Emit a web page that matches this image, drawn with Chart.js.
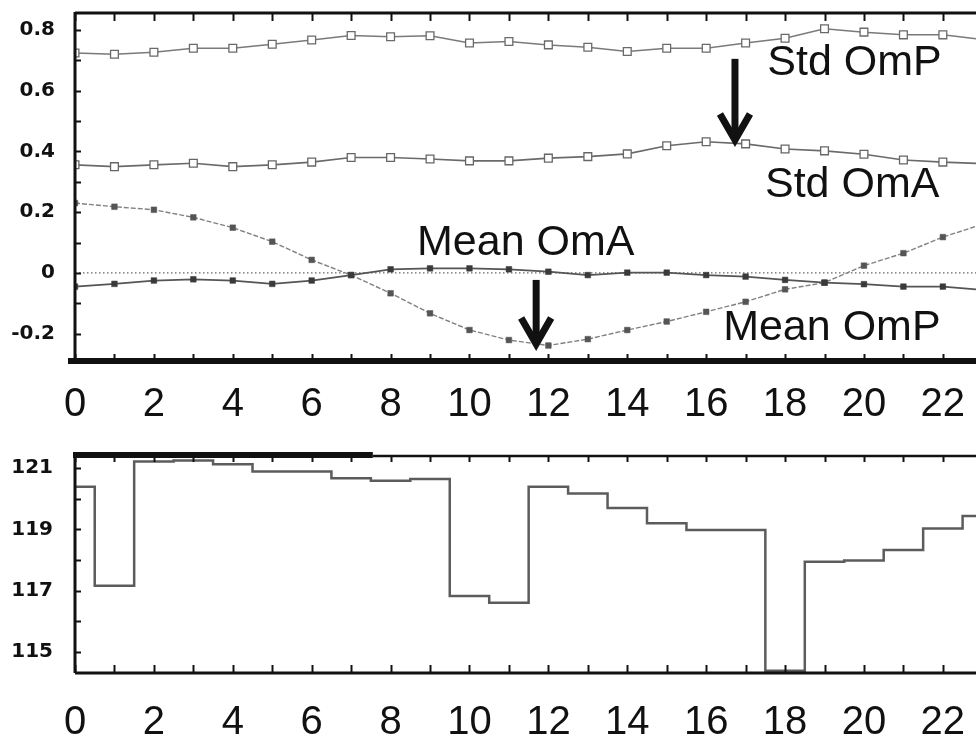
<!DOCTYPE html>
<html><head><meta charset="utf-8">
<script src="https://cdn.jsdelivr.net/npm/chart.js@4.4.0/dist/chart.umd.min.js"></script>
<style>
html,body{margin:0;padding:0;background:#fff;}
#wrap{position:relative;width:976px;height:741px;overflow:hidden;background:#fff;}
canvas{position:absolute;left:0;}
#c1{top:0}
#c2{top:440px}
</style></head><body>
<div id="wrap"><canvas id="c1" width="976" height="440"></canvas><canvas id="c2" width="976" height="301"></canvas></div>
<script>
// ---- data ----
const hours = [0,1,2,3,4,5,6,7,8,9,10,11,12,13,14,15,16,17,18,19,20,21,22,23];
const stdOmP  = [0.724,0.720,0.727,0.740,0.740,0.753,0.767,0.782,0.778,0.781,0.757,0.762,0.751,0.743,0.729,0.740,0.740,0.757,0.773,0.804,0.793,0.784,0.784,0.769];
const stdOmA  = [0.356,0.350,0.356,0.361,0.350,0.356,0.365,0.380,0.380,0.375,0.369,0.369,0.378,0.383,0.392,0.419,0.432,0.425,0.408,0.402,0.391,0.372,0.365,0.360];
const meanOmP = [0.230,0.218,0.208,0.183,0.149,0.103,0.043,-0.007,-0.067,-0.133,-0.188,-0.221,-0.239,-0.218,-0.188,-0.160,-0.128,-0.095,-0.054,-0.032,0.024,0.065,0.118,0.160];
const meanOmA = [-0.045,-0.036,-0.025,-0.021,-0.025,-0.036,-0.025,-0.007,0.012,0.015,0.015,0.012,0.004,-0.007,0.001,0.001,-0.007,-0.012,-0.023,-0.032,-0.037,-0.045,-0.045,-0.056];
const lowerSeries = [120.39,117.16,121.21,121.24,121.12,120.88,120.88,120.66,120.58,120.64,116.83,116.61,120.39,120.17,119.69,119.20,118.98,118.98,114.39,117.94,117.98,118.33,119.03,119.43];

const xTickHours = [0,1,2,3,4,5,6,7,8,9,10,11,12,13,14,15,16,17,18,19,20,21,22];
const yLabelsTop = [-0.2,0,0.2,0.4,0.6,0.8];
const yMinorTop = [-0.2,-0.1,0,0.1,0.2,0.3,0.4,0.5,0.6,0.7,0.8];
const yLabelsBottom = [115,117,119,121];
const yMinorBottom = [115,116,117,118,119,120,121];

const seriesLabels = ['Std OmP','Std OmA','Mean OmA','Mean OmP'];
// annotation anchors in data coordinates (hour, value)
const textNotes = [
  {text:'Std OmP', x:17.55, y:0.692},
  {text:'Std OmA', x:17.49, y:0.290},
  {text:'Mean OmA', x:8.67, y:0.099},
  {text:'Mean OmP', x:16.43, y:-0.181}
];
const arrowNotes = [
  {x:16.73, y1:0.705, y2:0.428},
  {x:11.69, y1:-0.023, y2:-0.244}
];

const FONT = '"Liberation Sans", Arial, Helvetica, sans-serif';
const YFONT = '"DejaVu Sans", Verdana, sans-serif';
const INK = '#111';

function line(ctx, x1, y1, x2, y2, w) {
  ctx.lineWidth = w; ctx.beginPath(); ctx.moveTo(x1, y1); ctx.lineTo(x2, y2); ctx.stroke();
}

const framePlugin = {
  id: 'frame',
  beforeDatasetsDraw(chart, args, o) {
    if (!o.zeroLine) return;
    const {ctx, chartArea: a, scales: {y}} = chart;
    const py = y.getPixelForValue(0);
    ctx.save();
    ctx.strokeStyle = '#666';
    ctx.setLineDash([1.5, 2.5]);
    line(ctx, a.left, py, a.right, py, 1.2);
    ctx.restore();
  },
  afterDraw(chart, args, o) {
    const {ctx, chartArea: a, scales: {x, y}} = chart;
    ctx.save();
    ctx.strokeStyle = INK;
    ctx.lineCap = 'butt';
    for (const h of xTickHours) {
      const px = Math.round(x.getPixelForValue(h)) + 0.5;
      line(ctx, px, a.top, px, a.top + o.topTick, 2);
      line(ctx, px, a.bottom, px, a.bottom - o.bottomTick, 2);
    }
    for (const v of o.yMinor) {
      const py = Math.round(y.getPixelForValue(v)) + 0.5;
      line(ctx, a.left, py, a.left + 6, py, 2);
    }
    line(ctx, a.left, a.top - 1, a.left, a.bottom, 3);
    if (o.thickTopTo !== undefined) {
      const pt = x.getPixelForValue(o.thickTopTo);
      line(ctx, a.left - 2, a.top, pt, a.top, 6);
      line(ctx, pt, a.top + 1, a.right, a.top + 1, 2.5);
    } else {
      line(ctx, a.left, a.top, a.right, a.top, 3);
    }
    line(ctx, a.left - o.bottomExt, a.bottom, a.right, a.bottom, o.bottomWidth);

    if (o.notes) {
      ctx.fillStyle = INK;
      ctx.font = '43px ' + FONT;
      ctx.textAlign = 'left';
      ctx.textBaseline = 'middle';
      for (const n of o.notes) {
        ctx.fillText(n.text, x.getPixelForValue(n.x), y.getPixelForValue(n.y));
      }
    }
    if (o.arrows) {
      ctx.strokeStyle = INK;
      ctx.lineCap = 'butt';
      ctx.lineJoin = 'miter';
      for (const ar of o.arrows) {
        const px = x.getPixelForValue(ar.x);
        const p1 = y.getPixelForValue(ar.y1);
        const p2 = y.getPixelForValue(ar.y2);
        line(ctx, px, p1, px, p2 - 4, 7);
        ctx.lineWidth = 7;
        ctx.beginPath();
        ctx.moveTo(px - 15, p2 - 29);
        ctx.lineTo(px, p2 - 3);
        ctx.lineTo(px + 15, p2 - 29);
        ctx.stroke();
      }
    }
    ctx.restore();
  }
};

function noPad(s) { s.paddingLeft = 0; s.paddingRight = 0; s.paddingTop = 0; s.paddingBottom = 0; }

function xScale(pad, h) {
  return {
    type: 'linear', min: 0, max: 22.84,
    afterBuildTicks: s => { s.ticks = xTickHours.map(v => ({value: v})); },
    afterFit: s => { s.height = h; noPad(s); },
    grid: {display: false, drawTicks: false},
    border: {display: false},
    ticks: {
      autoSkip: false, maxRotation: 0, padding: pad, color: INK,
      font: {family: FONT, size: 40},
      callback: v => (v % 2 === 0 ? String(v) : '')
    }
  };
}

// ---- top chart ----
new Chart(document.getElementById('c1'), {
  type: 'line',
  data: {
    datasets: [
      {label: seriesLabels[0], data: hours.map((h, i) => ({x: h, y: stdOmP[i]})),
       borderColor: '#7a7a7a', borderWidth: 1.5, pointStyle: 'rect', pointRadius: 5.5,
       pointBorderColor: '#6a6a6a', pointBorderWidth: 1.3, pointBackgroundColor: '#fff', tension: 0},
      {label: seriesLabels[1], data: hours.map((h, i) => ({x: h, y: stdOmA[i]})),
       borderColor: '#6a6a6a', borderWidth: 1.6, pointStyle: 'rect', pointRadius: 5.5,
       pointBorderColor: '#666', pointBorderWidth: 1.3, pointBackgroundColor: '#fff', tension: 0},
      {label: seriesLabels[2], data: hours.map((h, i) => ({x: h, y: meanOmA[i]})),
       borderColor: '#555', borderWidth: 1.8, pointStyle: 'rect', pointRadius: 4,
       pointBorderColor: '#3a3a3a', pointBorderWidth: 0.5, pointBackgroundColor: '#3a3a3a', tension: 0},
      {label: seriesLabels[3], data: hours.map((h, i) => ({x: h, y: meanOmP[i]})),
       borderColor: '#808080', borderWidth: 1.4, borderDash: [5, 2], pointStyle: 'rect', pointRadius: 4,
       pointBorderColor: '#555', pointBorderWidth: 0.5, pointBackgroundColor: '#555', tension: 0}
    ]
  },
  options: {
    responsive: false, animation: false, devicePixelRatio: 1,
    layout: {autoPadding: false, padding: {top: 13, left: 0, right: 0, bottom: 0}},
    plugins: {
      legend: {display: false}, tooltip: {enabled: false},
      frame: {zeroLine: true, yMinor: yMinorTop, topTick: 8, bottomTick: 7, bottomExt: 7, bottomWidth: 6,
              notes: textNotes, arrows: arrowNotes}
    },
    scales: {
      x: xScale(20, 79),
      y: {
        type: 'linear', min: -0.29, max: 0.856,
        afterBuildTicks: s => { s.ticks = yLabelsTop.map(v => ({value: v})); },
        afterFit: s => { s.width = 75; noPad(s); },
        grid: {display: false, drawTicks: false},
        border: {display: false},
        ticks: {padding: 20, color: INK, font: {family: YFONT, size: 20, weight: 'bold'},
                callback: v => String(Math.round(v * 10) / 10)}
      }
    }
  },
  plugins: [framePlugin]
});

// ---- bottom chart ----
new Chart(document.getElementById('c2'), {
  type: 'line',
  data: {
    datasets: [
      {label: 'value', data: hours.map((h, i) => ({x: h, y: lowerSeries[i]})),
       stepped: 'middle', borderColor: '#5c5c5c', borderWidth: 2.5, pointRadius: 0, tension: 0}
    ]
  },
  options: {
    responsive: false, animation: false, devicePixelRatio: 1,
    layout: {autoPadding: false, padding: {top: 15, left: 0, right: 0, bottom: 0}},
    plugins: {
      legend: {display: false}, tooltip: {enabled: false},
      frame: {zeroLine: false, yMinor: yMinorBottom, topTick: 7, bottomTick: 8, bottomExt: 0, bottomWidth: 3,
              thickTopTo: 7.55}
    },
    scales: {
      x: xScale(26, 68),
      y: {
        type: 'linear', min: 114.32, max: 121.42,
        afterBuildTicks: s => { s.ticks = yLabelsBottom.map(v => ({value: v})); },
        afterFit: s => { s.width = 75; noPad(s); },
        grid: {display: false, drawTicks: false},
        border: {display: false},
        ticks: {padding: 22, color: INK, font: {family: YFONT, size: 20, weight: 'bold'},
                callback: v => String(v)}
      }
    }
  },
  plugins: [framePlugin]
});
</script>
</body></html>
